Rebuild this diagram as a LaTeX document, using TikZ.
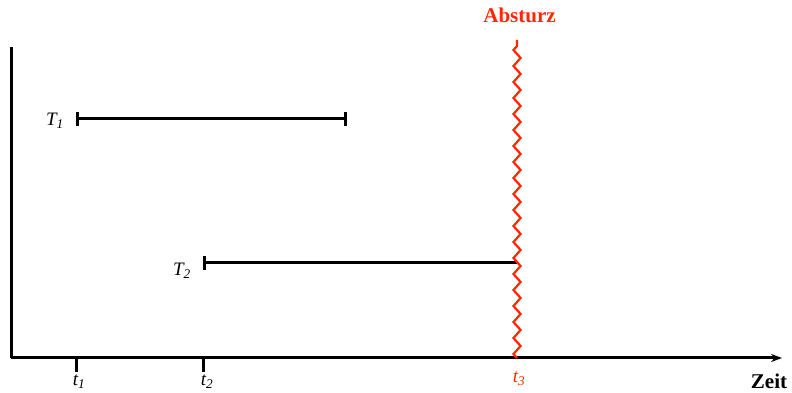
\documentclass[tikz,border=0pt]{standalone}
\usepackage{fontspec}
\setmainfont{Liberation Serif}
\usepackage{tikz}
\usetikzlibrary{arrows.meta,decorations.pathmorphing}
\definecolor{crashred}{RGB}{255,40,0}

\begin{document}
\begin{tikzpicture}[x=1pt,y=1pt,
  axis/.style={draw=black,line width=3pt},
  span/.style={draw=black,line width=3pt},
  lbl/.style={anchor=base,inner sep=0pt,font=\fontsize{19}{22}\selectfont\itshape},
  head/.style={anchor=base,inner sep=0pt,font=\fontsize{21}{24}\selectfont\bfseries}]
\useasboundingbox (0,0) rectangle (792,393);
% axes:
\coordinate (origin) at (11,35);
\coordinate (ytop) at (11,346);
\coordinate (xend) at (782,35);
\path[axis] (ytop) -- (origin);
\path[axis,-{Stealth[length=11pt,width=8pt]}] (origin) -- (xend);
\node[head] (zeit) at (769,4) {Zeit};
% ticks:
\coordinate (t1) at (76,35);
\coordinate (t2) at (203,35);
\coordinate (t3) at (517,35);
\path[axis] (t1) -- ++(0,-14);
\path[axis] (t2) -- ++(0,-14);
\node[lbl] (t1lbl) at (79,7) {t\textsubscript{1}};
\node[lbl] (t2lbl) at (207,7) {t\textsubscript{2}};
\node[lbl,text=crashred] (t3lbl) at (519,10) {t\textsubscript{3}};
% transactions:
\coordinate (a1) at (76,274);
\coordinate (b1) at (347,274);
\coordinate (a2) at (203,130);
\coordinate (b2) at (517,130);
\path[span,{Bar[width=14pt]}-{Bar[width=14pt]}] (a1) -- (b1);
\path[span,{Bar[width=14pt]}-] (a2) -- (b2);
\node[lbl] (T1) at (55,267) {T\textsubscript{1}};
\node[lbl] (T2) at (182,117) {T\textsubscript{2}};
% crash:
\coordinate (crashtop) at (517,353);
\path[draw=crashred,line width=2.2pt,decorate,
  decoration={zigzag,segment length=16pt,amplitude=3.5pt}] (t3) -- (crashtop);
\node[head,text=crashred] (absturz) at (519.5,370) {Absturz};
\end{tikzpicture}
\end{document}
